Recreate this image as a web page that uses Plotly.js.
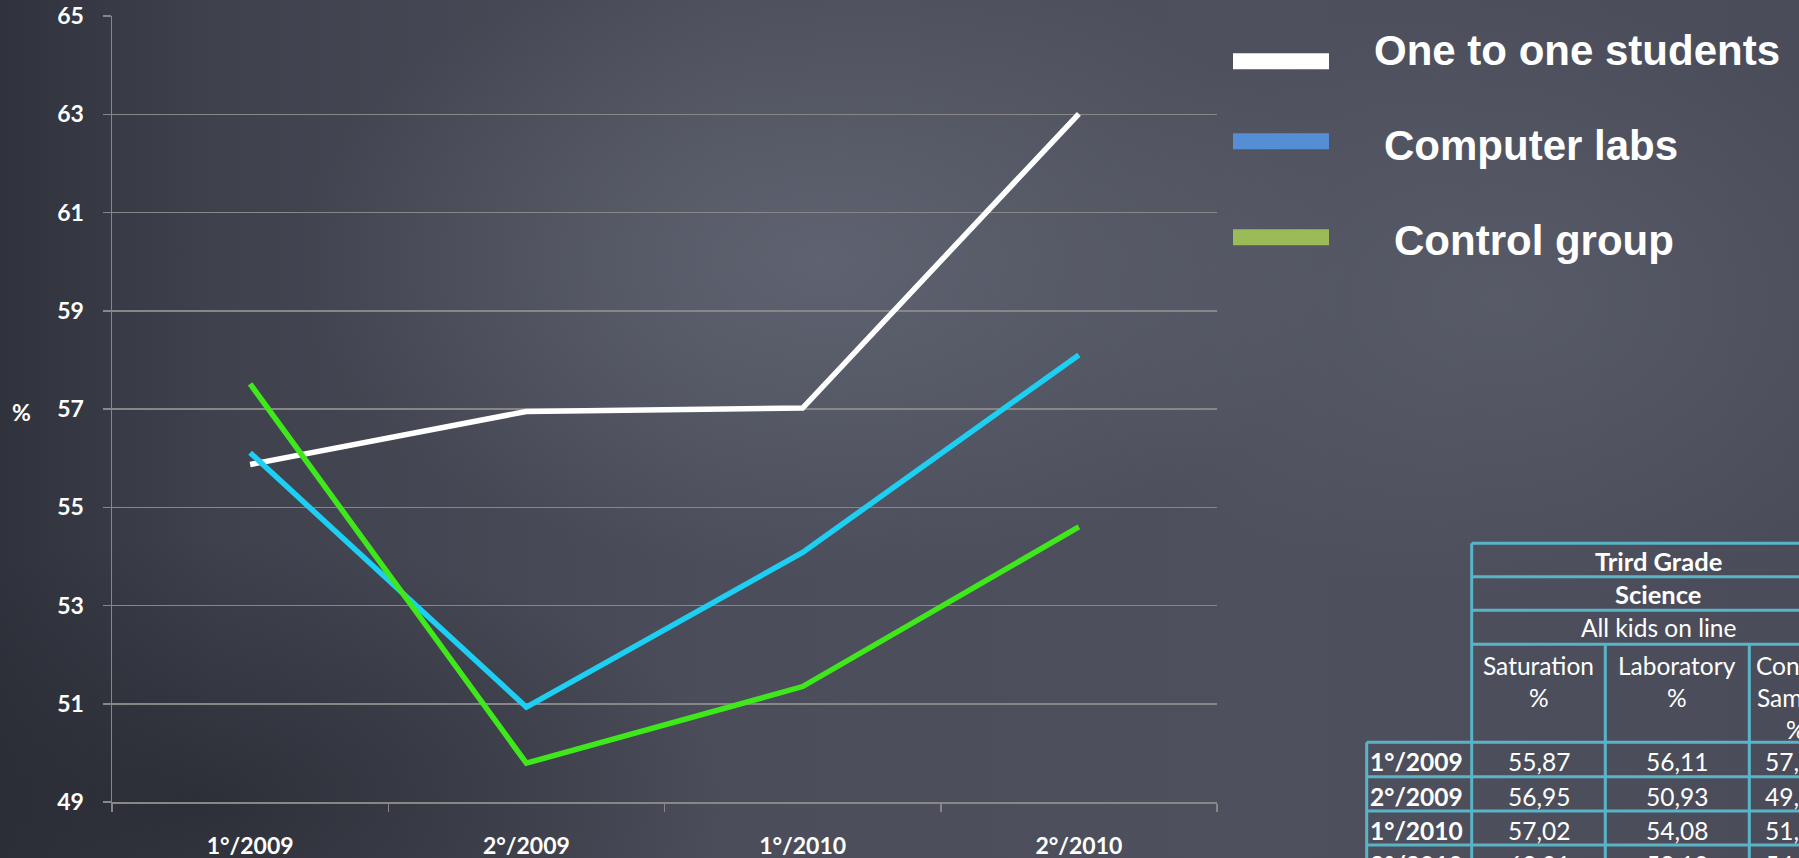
<!DOCTYPE html>
<html>
<head>
<meta charset="utf-8">
<script src="https://cdn.plot.ly/plotly-3.0.1.min.js"></script>
<style>
html,body{margin:0;padding:0;width:1799px;height:858px;overflow:hidden;}
body{
  background-color:#484b57;
  background-image:
    radial-gradient(ellipse 700px 420px at 820px 260px, rgba(98,101,115,0.85), rgba(98,101,115,0) 75%),
    radial-gradient(ellipse 600px 400px at 1500px 300px, rgba(92,95,108,0.7), rgba(92,95,108,0) 75%),
    radial-gradient(ellipse 700px 350px at 200px 800px, rgba(38,40,48,0.7), rgba(38,40,48,0) 75%),
    linear-gradient(to right, #30323c 0%, #3f414d 12%, #4b4e5a 40%, #4e515d 70%, #4a4d59 100%);
}
#chart{width:1799px;height:858px;}
</style>
</head>
<body>
<div id="chart"></div>
<script>
// ---- data ----
const periods = ['1°/2009', '2°/2009', '1°/2010', '2°/2010'];
const oneToOne = [55.87, 56.95, 57.02, 63.01];
const computerLabs = [56.11, 50.93, 54.08, 58.10];
const controlGroup = [57.51, 49.79, 51.35, 54.60];
const seriesNames = ['One to one students', 'Computer labs', 'Control group'];
const yTickValues = [49, 51, 53, 55, 57, 59, 61, 63, 65];
const tableTitles = ['Trird Grade', 'Science', 'All kids on line'];
const columnHeaders = [['Saturation', '%'], ['Laboratory', '%'], ['Control', 'Sample', '%']];
const yAxisLabel = '%';

// ---- styles ----
const lineColors = ['#ffffff', '#1dcff2', '#3fe81b'];
const legendColors = ['#ffffff', '#558ed5', '#9bbb59'];
const W = 1799, H = 858, ML = 112, MR = 582, MT = 16, MB = 56;
const PW = W - ML - MR, PH = H - MT - MB;
const px = x => (x - ML) / PW;
const py = y => (H - MB - y) / PH;
const gridColor = '#878787';
const borderColor = '#5ab4c8';
const chartFont = 'Lato, "Open Sans", sans-serif';
const legendFont = '"Liberation Sans", Arial, sans-serif';
const tableSize = 24.5;

const series = [oneToOne, computerLabs, controlGroup];
const traces = series.map((vals, i) => ({
  type: 'scatter', mode: 'lines', x: periods, y: vals, name: seriesNames[i],
  line: {color: lineColors[i], width: 5.5}, hoverinfo: 'skip'
}));

const shapes = [];
const annotations = [];

// y-axis label
annotations.push({xref: 'paper', yref: 'paper', x: px(21), y: py(412), xanchor: 'center', yanchor: 'middle',
  text: '<b>' + yAxisLabel + '</b>', showarrow: false, font: {family: chartFont, size: 23, color: '#ffffff'}});

// legend
const legendRectY = [61.3, 141.3, 237.3];
const legendTextX = [1372, 1382, 1392];
const legendTextY = [50, 146, 241];
seriesNames.forEach((n, i) => {
  shapes.push({type: 'rect', xref: 'paper', yref: 'paper', x0: px(1233), x1: px(1329),
    y0: py(legendRectY[i] - 8), y1: py(legendRectY[i] + 8), fillcolor: legendColors[i], line: {width: 0}});
  annotations.push({xref: 'paper', yref: 'paper', x: px(legendTextX[i]), y: py(legendTextY[i]),
    xanchor: 'left', yanchor: 'middle', showarrow: false, text: '<b>' + n + '</b>',
    font: {family: legendFont, size: 42, color: '#ffffff'}});
});

// table
const colX = [1366.7, 1471.7, 1605.3, 1749.3, 1845];
const rowY = [543.3, 576.7, 610.3, 644.3, 742.3, 776.7, 811, 845, 879];
const hl = (x0, x1, y) => shapes.push({type: 'line', xref: 'paper', yref: 'paper', x0: px(x0), x1: px(x1), y0: py(y), y1: py(y), line: {color: borderColor, width: 3}});
const vl = (x, y0, y1) => shapes.push({type: 'line', xref: 'paper', yref: 'paper', x0: px(x), x1: px(x), y0: py(y0), y1: py(y1), line: {color: borderColor, width: 3}});
for (let r = 0; r < rowY.length; r++) {
  hl(r >= 4 ? colX[0] : colX[1], colX[4], rowY[r]);
}
vl(colX[0], rowY[4], rowY[8]);
vl(colX[1], rowY[0], rowY[8]);
vl(colX[2], rowY[3], rowY[8]);
vl(colX[3], rowY[3], rowY[8]);
vl(colX[4], rowY[0], rowY[8]);

const spanCenter = (colX[1] + colX[4]) / 2;
tableTitles.forEach((t, i) => {
  annotations.push({xref: 'paper', yref: 'paper', x: px(spanCenter), y: py((rowY[i] + rowY[i + 1]) / 2 + 0.5),
    xanchor: 'center', yanchor: 'middle', showarrow: false, text: i < 2 ? '<b>' + t + '</b>' : t,
    font: {family: chartFont, size: i < 2 ? 25.5 : tableSize, color: '#ffffff'}});
});
columnHeaders.forEach((lines, c) => {
  const cx = c < 2 ? (colX[c + 1] + colX[c + 2]) / 2 : 1796;
  lines.forEach((ln, k) => {
    annotations.push({xref: 'paper', yref: 'paper', x: px(cx), y: py(665 + 32 * k),
      xanchor: 'center', yanchor: 'middle', showarrow: false, text: ln,
      font: {family: chartFont, size: tableSize, color: '#ffffff'}});
  });
});
periods.forEach((p, r) => {
  const cy = rowY[4 + r] + 19.5;
  annotations.push({xref: 'paper', yref: 'paper', x: px(1368), y: py(cy), xanchor: 'left', yanchor: 'middle',
    showarrow: false, text: '<b>' + p + '</b>', font: {family: chartFont, size: tableSize, color: '#ffffff'}});
  series.forEach((vals, c) => {
    const cx = c < 2 ? (colX[c + 1] + colX[c + 2]) / 2 : 1796;
    annotations.push({xref: 'paper', yref: 'paper', x: px(cx), y: py(cy), xanchor: 'center', yanchor: 'middle',
      showarrow: false, text: vals[r].toFixed(2).replace('.', ','), font: {family: chartFont, size: tableSize, color: '#ffffff'}});
  });
});

const layout = {
  width: W, height: H,
  margin: {l: ML, r: MR, t: MT, b: MB, pad: 0},
  paper_bgcolor: 'rgba(0,0,0,0)', plot_bgcolor: 'rgba(0,0,0,0)',
  showlegend: false,
  xaxis: {
    type: 'category', categoryorder: 'array', categoryarray: periods, range: [-0.5, 3.5],
    showgrid: false, zeroline: false, showline: true, linecolor: gridColor, linewidth: 1.5,
    ticks: 'outside', tickson: 'boundaries', ticklen: 8, tickcolor: gridColor, tickwidth: 1.5,
    ticklabelstandoff: 23,
    tickfont: {family: chartFont, size: 23, color: '#ffffff', weight: 'bold'}
  },
  yaxis: {
    range: [49, 65], tickvals: yTickValues, ticktext: yTickValues.map(String),
    showgrid: true, gridcolor: gridColor, gridwidth: 1.5, zeroline: false,
    showline: true, linecolor: gridColor, linewidth: 1.5,
    ticks: 'outside', ticklen: 8, tickcolor: gridColor, tickwidth: 1.5,
    ticklabelstandoff: 14,
    tickfont: {family: chartFont, size: 23, color: '#ffffff', weight: 'bold'}
  },
  shapes: shapes,
  annotations: annotations
};

Plotly.newPlot('chart', traces, layout, {staticPlot: true, displayModeBar: false});
</script>
</body>
</html>
